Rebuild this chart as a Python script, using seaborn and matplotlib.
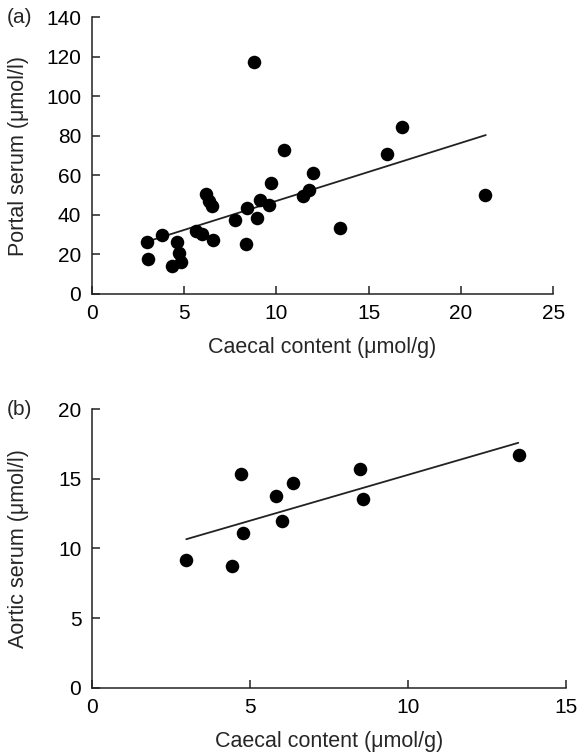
import matplotlib

matplotlib.use("Agg")
import matplotlib.pyplot as plt
import pandas as pd
import seaborn as sns

# ---- data -----------------------------------------------------------------

# (a) caecal content vs portal serum
portal_caecal = [8.79, 10.41, 12.00, 11.75, 11.42, 9.71, 9.11, 9.62, 8.39, 8.93,
                 7.76, 8.34, 6.19, 6.37, 6.53, 5.65, 5.99, 6.58, 3.79, 2.98,
                 3.03, 4.63, 4.73, 4.83, 4.35, 16.82, 16.00, 21.33, 13.44]
portal_serum = [117.6, 72.7, 61.3, 52.6, 49.7, 56.1, 47.7, 45.1, 43.4, 38.4,
                37.2, 25.1, 50.6, 47.2, 44.4, 31.7, 30.3, 27.1, 29.9, 26.3,
                17.8, 26.3, 20.8, 16.1, 14.2, 84.6, 70.7, 50.3, 33.3]
portal_fit_x = [3.0, 21.35]
portal_fit_y = [26.5, 80.4]

# (b) caecal content vs aortic serum
aortic_caecal = [2.99, 4.44, 4.71, 4.77, 5.84, 6.02, 6.35, 8.50, 8.58, 13.51]
aortic_serum = [9.18, 8.72, 15.32, 11.14, 13.78, 11.98, 14.70, 15.68, 13.54, 16.74]
aortic_fit_x = [2.99, 13.49]
aortic_fit_y = [10.66, 17.58]

x_label = "Caecal content (\u03bcmol/g)"

sns.set_theme(style="ticks")
plt.rcParams["font.family"] = ["Liberation Sans", "DejaVu Sans"]
plt.rcParams["axes.linewidth"] = 1.1
plt.rcParams["xtick.direction"] = "in"
plt.rcParams["ytick.direction"] = "in"

fig = plt.figure(figsize=(5.79, 7.53), dpi=100)
ax_a = fig.add_axes([0.1584, 0.6096, 0.797, 0.3675])
ax_b = fig.add_axes([0.1584, 0.0867, 0.8192, 0.370])


def draw_panel(ax, xs, ys, fit_x, fit_y, xlim, ylim, xticks, yticks, ylabel,
               ylabel_x):
    df = pd.DataFrame({"x": xs, "y": ys})
    fit = pd.DataFrame({"x": fit_x, "y": fit_y})
    sns.lineplot(data=fit, x="x", y="y", color="#222222", lw=1.3, ax=ax)
    sns.scatterplot(data=df, x="x", y="y", color="black", s=95,
                    edgecolor="black", linewidth=0, ax=ax, zorder=3)
    ax.set_xlim(*xlim)
    ax.set_ylim(*ylim)
    ax.set_xticks(xticks)
    ax.set_yticks(yticks)
    ax.tick_params(labelsize=15, length=6, width=1.1, colors="#222222",
                   labelcolor="black", pad=7.5)
    ax.set_xlabel(x_label, fontsize=15.5, labelpad=10)
    ax.set_ylabel(ylabel, fontsize=15.5)
    # both y labels sit at the same place on the page
    ax.yaxis.set_label_coords(ylabel_x, 0.5)
    for side in ("top", "right"):
        ax.spines[side].set_visible(False)
    for side in ("left", "bottom"):
        ax.spines[side].set_color("#222222")


draw_panel(ax_a, portal_caecal, portal_serum, portal_fit_x, portal_fit_y,
           (0, 25), (0, 140), range(0, 26, 5), range(0, 141, 20),
           "Portal serum (\u03bcmol/l)", -0.136)
draw_panel(ax_b, aortic_caecal, aortic_serum, aortic_fit_x, aortic_fit_y,
           (0, 15), (0, 20), range(0, 16, 5), range(0, 21, 5),
           "Aortic serum (\u03bcmol/l)", -0.132)

fig.text(0.012, 0.977, "(a)", fontsize=15, va="center", ha="left")
fig.text(0.012, 0.4568, "(b)", fontsize=15, va="center", ha="left")

fig.savefig("out.png", dpi=100)
plt.close(fig)
